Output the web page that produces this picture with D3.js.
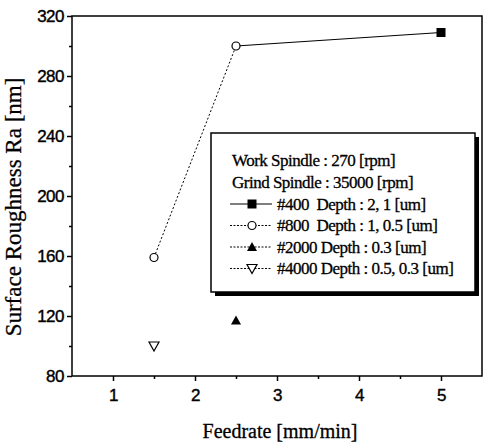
<!DOCTYPE html>
<html>
<head>
<meta charset="utf-8"/>
<title>Surface Roughness vs Feedrate</title>
<script src="https://cdn.jsdelivr.net/npm/d3@7"></script>
<style>
  body{margin:0;background:#fff;}
  text{fill:#000;}
</style>
</head>
<body>
<svg id="chart" width="483" height="446"></svg>
<script>
// data
var feed400 = [2.5, 5];      var ra400 = [300, 309];
var feed800 = [1.5, 2.5];    var ra800 = [159, 300];
var feed2000 = [2.5];        var ra2000 = [117];
var feed4000 = [1.5];        var ra4000 = [100];
var xTicks = [1, 2, 3, 4, 5];
var yTicks = [80, 120, 160, 200, 240, 280, 320];
var legendLines = ["Work Spindle : 270 [rpm]", "Grind Spindle : 35000 [rpm]"];
var seriesNames = ["#400  Depth : 2, 1 [um]", "#800  Depth : 1, 0.5 [um]",
                   "#2000 Depth : 0.3 [um]", "#4000 Depth : 0.5, 0.3 [um]"];

var svg = d3.select("#chart");
var pLeft = 72, pRight = 482, pTop = 16, pBottom = 376;

var x = d3.scaleLinear().domain([0.5, 5.5]).range([pLeft, pRight]);
var y = d3.scaleLinear().domain([80, 320]).range([pBottom, pTop]);

var serif = "'Liberation Serif', 'Times New Roman', serif";
var sans = "'Liberation Sans', Arial, sans-serif";

// frame
svg.append("rect").attr("x", pLeft).attr("y", pTop)
  .attr("width", pRight - pLeft).attr("height", pBottom - pTop)
  .attr("fill", "none").attr("stroke", "#000").attr("stroke-width", 1.5);

// axes
var xAxis = svg.append("g").attr("transform", "translate(0," + pBottom + ")")
  .call(d3.axisBottom(x).tickValues(xTicks).tickSize(5).tickPadding(8).tickFormat(d3.format("d")));
var xMinor = svg.append("g").attr("transform", "translate(0," + pBottom + ")")
  .call(d3.axisBottom(x).tickValues([1.5, 2.5, 3.5, 4.5]).tickSize(3).tickFormat(""));
var yAxis = svg.append("g").attr("transform", "translate(" + pLeft + ",0)")
  .call(d3.axisLeft(y).tickValues(yTicks).tickSize(5).tickPadding(3));
var yMinor = svg.append("g").attr("transform", "translate(" + pLeft + ",0)")
  .call(d3.axisLeft(y).tickValues([100, 140, 180, 220, 260, 300]).tickSize(3).tickFormat(""));
[xAxis, xMinor, yAxis, yMinor].forEach(function(g){
  g.select(".domain").remove();
  g.selectAll("line").attr("stroke", "#000").attr("stroke-width", 1.5);
  g.selectAll("text").attr("font-family", sans).attr("font-size", 17)
    .attr("letter-spacing", -0.5).attr("fill", "#000")
    .attr("stroke", "#000").attr("stroke-width", 0.4);
});

// axis titles
svg.append("text").attr("x", 280).attr("y", 438).attr("text-anchor", "middle")
  .attr("font-family", serif).attr("font-size", 20)
  .attr("stroke", "#000").attr("stroke-width", 0.3)
  .text("Feedrate [mm/min]");
svg.append("text").attr("transform", "translate(21,207) rotate(-90)")
  .attr("text-anchor", "middle").attr("font-family", serif).attr("font-size", 23)
  .attr("stroke", "#000").attr("stroke-width", 0.3)
  .text("Surface Roughness Ra [nm]");

// lines
var line = d3.line();
svg.append("path").attr("d", line(feed800.map(function(d, i){ return [x(d), y(ra800[i])]; })))
  .attr("fill", "none").attr("stroke", "#000").attr("stroke-width", 1).attr("stroke-dasharray", "2,2");
svg.append("path").attr("d", line(feed400.map(function(d, i){ return [x(d), y(ra400[i])]; })))
  .attr("fill", "none").attr("stroke", "#000").attr("stroke-width", 1.2);

// markers
function square(g, cx, cy){
  g.append("rect").attr("x", cx - 4.5).attr("y", cy - 4.5).attr("width", 9).attr("height", 9).attr("fill", "#000");
}
function circle(g, cx, cy){
  g.append("circle").attr("cx", cx).attr("cy", cy).attr("r", 4).attr("fill", "#fff")
    .attr("stroke", "#000").attr("stroke-width", 1.2);
}
function triUp(g, cx, cy){
  g.append("path").attr("d", "M" + cx + "," + (cy - 5) + "L" + (cx + 5) + "," + (cy + 4) + "L" + (cx - 5) + "," + (cy + 4) + "Z")
    .attr("fill", "#000");
}
function triDown(g, cx, cy){
  g.append("path").attr("d", "M" + (cx - 5) + "," + (cy - 4) + "L" + (cx + 5) + "," + (cy - 4) + "L" + cx + "," + (cy + 5) + "Z")
    .attr("fill", "#fff").attr("stroke", "#000").attr("stroke-width", 1.2);
}
var marks = svg.append("g");
feed400.forEach(function(d, i){ if (d != 2.5) square(marks, x(d), y(ra400[i])); });
feed800.forEach(function(d, i){ circle(marks, x(d), y(ra800[i])); });
feed2000.forEach(function(d, i){ triUp(marks, x(d), y(ra2000[i])); });
feed4000.forEach(function(d, i){ triDown(marks, x(d), y(ra4000[i])); });

// legend
var lg = svg.append("g");
var lx = 211, ly = 133, lw = 264, lh = 159;
lg.append("rect").attr("x", lx + 4).attr("y", ly + 4).attr("width", lw).attr("height", lh).attr("fill", "#000");
lg.append("rect").attr("x", lx).attr("y", ly).attr("width", lw).attr("height", lh)
  .attr("fill", "#fff").attr("stroke", "#000").attr("stroke-width", 1.5);
legendLines.forEach(function(t, i){
  lg.append("text").attr("x", 232).attr("y", 166 + i * 21.5).attr("font-family", serif)
    .attr("font-size", 17).attr("letter-spacing", -0.5)
    .attr("stroke", "#000").attr("stroke-width", 0.3).text(t);
});
var markers = [square, circle, triUp, triDown];
seriesNames.forEach(function(t, i){
  var cy = 204 + i * 21.5;
  lg.append("line").attr("x1", 230).attr("x2", 272).attr("y1", cy).attr("y2", cy)
    .attr("stroke", "#000").attr("stroke-width", i == 0 ? 1.2 : 1)
    .attr("stroke-dasharray", i == 0 ? null : "2,1.5");
  markers[i](lg, 252, cy);
  lg.append("text").attr("x", 277).attr("y", cy + 5.5).attr("font-family", serif)
    .attr("font-size", 17).attr("letter-spacing", -0.5).attr("xml:space", "preserve")
    .attr("stroke", "#000").attr("stroke-width", 0.3).text(t);
});
</script>
</body>
</html>
